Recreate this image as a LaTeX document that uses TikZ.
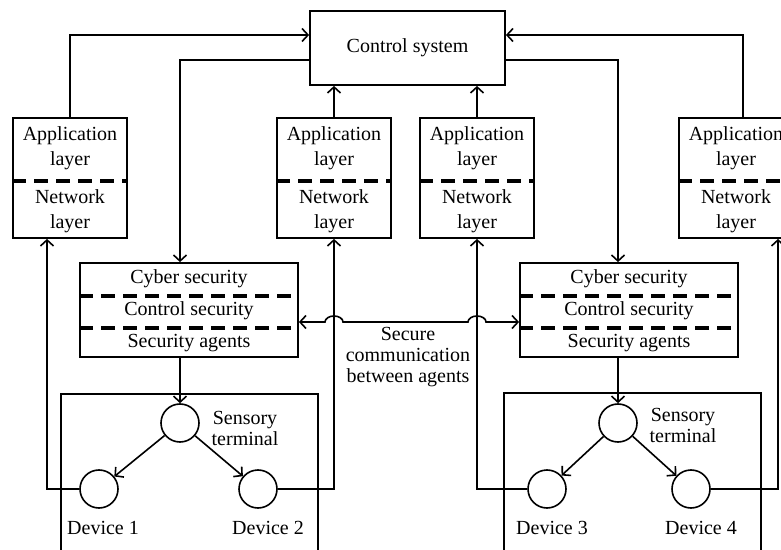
\documentclass[tikz,border=0pt]{standalone}
\usepackage{fontspec}
\setmainfont{Liberation Serif}
\usetikzlibrary{arrows.meta}

\tikzset{
	box/.style={draw, line width=0.9pt, rectangle, inner sep=0pt},
	layerbox/.style={box, minimum width=57pt, minimum height=60pt},
	secbox/.style={box, minimum width=109pt, minimum height=47pt},
	agent/.style={draw, line width=0.8pt, circle, minimum size=19pt, inner sep=0pt},
	divider/.style={line width=1.6pt, dash pattern=on 7pt off 4pt},
	link/.style={line width=0.8pt, ->},
	lbl/.style={align=center, font=\fontsize{10}{12.5}\selectfont, inner sep=0pt},
	tight/.style={lbl, font=\fontsize{10}{10.5}\selectfont},
}

\begin{document}
\begin{tikzpicture}[x=0.5pt, y=0.5pt, >={Straight Barb[length=3pt,width=6.5pt]}]
	\useasboundingbox (0,0) rectangle (781,-550);
	\clip (0,0) rectangle (781,-550);
	
	% control system
	\node[box, lbl, minimum width=97.5pt, minimum height=37pt] (ctrl) at (407.5,-48) {Control system};
	
	% application / network layer boxes
	\foreach \n/\x in {1/70, 2/334, 3/477, 4/736} {
		\node[layerbox] (app\n) at (\x,-178) {};
		\node[lbl] (app\n-top) at (\x,-148) {Application\\layer};
		\node[lbl] (app\n-bot) at (\x,-211) {Network\\layer};
		\draw[divider] (app\n.west |- 0,-181) -- (app\n.east |- 0,-181);
	}
	
	% security boxes
	\foreach \n/\x in {1/189, 2/629} {
		\node[secbox] (sec\n) at (\x,-310) {};
		\node[lbl] (cyber\n) at (\x,-279) {Cyber security};
		\node[lbl] (csec\n) at (\x,-311) {Control security};
		\node[lbl] (agents\n) at (\x,-343) {Security agents};
		\draw[divider] (sec\n.west |- 0,-296) -- (sec\n.east |- 0,-296);
		\draw[divider] (sec\n.west |- 0,-328) -- (sec\n.east |- 0,-328);
	}
	
	% device fields
	\draw[line width=0.6pt] (61,-394) rectangle (318,-560);
	\draw[line width=0.6pt] (504,-393) rectangle (761,-560);
	
	% terminals and devices
	\node[agent] (sens1) at (180,-423) {};
	\node[agent] (dev1) at (99,-489) {};
	\node[agent] (dev2) at (258,-489) {};
	\node[agent] (sens2) at (618,-423) {};
	\node[agent] (dev3) at (547,-489) {};
	\node[agent] (dev4) at (691,-489) {};
	
	\node[tight] (sens1-lbl) at (245,-428) {Sensory\\terminal};
	\node[tight] (sens2-lbl) at (683,-425) {Sensory\\terminal};
	\node[lbl] (dev1-lbl) at (103,-528) {Device 1};
	\node[lbl] (dev2-lbl) at (268,-528) {Device 2};
	\node[lbl] (dev3-lbl) at (552,-528) {Device 3};
	\node[lbl] (dev4-lbl) at (701,-528) {Device 4};
	
	% connectors to and from the control system
	\draw[link] (app1.north) |- ([yshift=6.5pt]ctrl.west);
	\draw[link] ([yshift=-6pt]ctrl.west) -| (sens1 |- sec1.north);
	\draw[link] (app2.north) -- (app2.north |- ctrl.south);
	\draw[link] (app3.north) -- (app3.north |- ctrl.south);
	\draw[link] ([xshift=3.5pt]app4.north) |- ([yshift=6.5pt]ctrl.east);
	\draw[link] ([yshift=-6pt]ctrl.east) -| (sens2 |- sec2.north);
	
	% agents to terminals to devices
	\draw[link] (sens1 |- sec1.south) -- (sens1.north);
	\draw[link] (sens2 |- sec2.south) -- (sens2.north);
	\draw[link] (sens1) -- (dev1);
	\draw[link] (sens1) -- (dev2);
	\draw[link] (sens2) -- (dev3);
	\draw[link] (sens2) -- (dev4);
	
	% devices back to the network layers
	\draw[link] (dev1.west) -| ([xshift=-11.5pt]app1.south);
	\draw[link] (dev2.east) -| (app2.south);
	\draw[link] (dev3.west) -| (app3.south);
	\draw[link] (dev4.east) -| ([xshift=21pt]app4.south);
	
	% secure link between the agents, jumping over the verticals
	\coordinate (s1) at ([yshift=-6pt]sec1.east);
	\coordinate (s2) at ([yshift=-6pt]sec2.west);
	\coordinate (j1) at (app2.south |- s1);
	\coordinate (j2) at (app3.south |- s1);
	\draw[link, <->] (s1) -- ([xshift=-4.5pt]j1)
		arc[start angle=180, end angle=0, x radius=4.5pt, y radius=3pt]
		-- ([xshift=-4.5pt]j2)
		arc[start angle=180, end angle=0, x radius=4.5pt, y radius=3pt]
		-- (s2);
	\node[tight] (comm) at (408,-357) {Secure\\communication\\between agents};
	
\end{tikzpicture}
\end{document}
